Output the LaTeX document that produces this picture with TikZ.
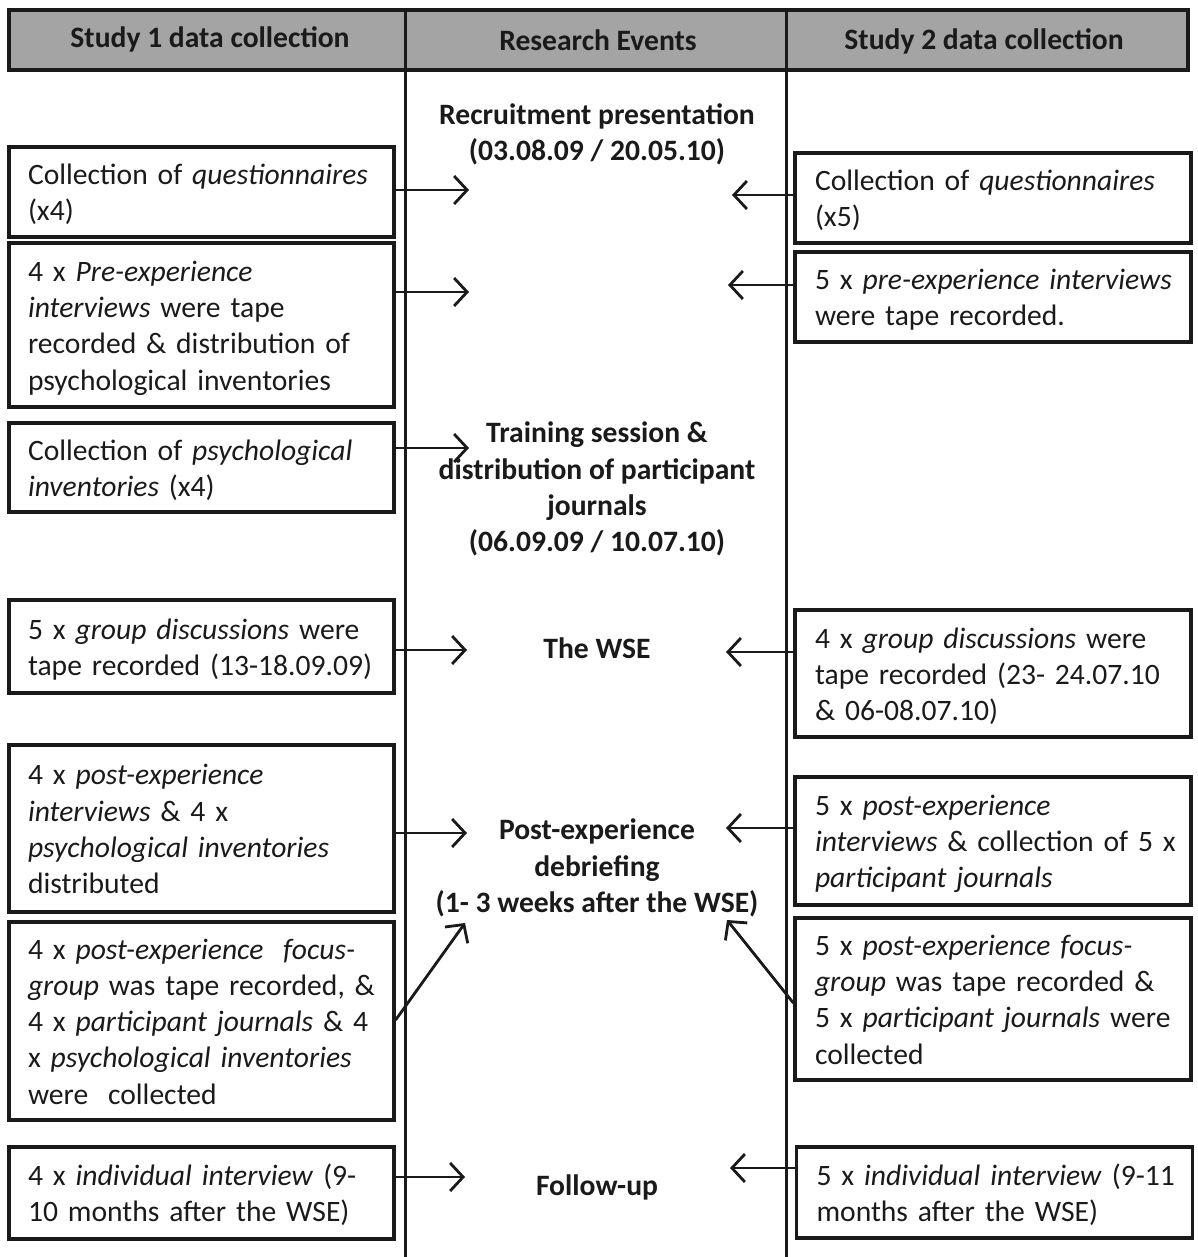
\documentclass[tikz,border=0pt]{standalone}
\usepackage{fontspec}
\setmainfont{Carlito}
\usetikzlibrary{arrows.meta}
\definecolor{ink}{HTML}{1A1A1A}
\definecolor{headfill}{HTML}{A4A4A4}
% lines of a box, kept exactly as broken, set a little low in the box
\newcommand{\boxlines}[1]{\raisebox{-3.5pt}[\height][\depth]{\begin{tabular}{@{}l@{}}#1\end{tabular}}}
\begin{document}
\begin{tikzpicture}[x=1pt,y=-1pt,
  every node/.style={font=\fontsize{29.6}{36.2}\selectfont, text=ink},
  lbox/.style={draw=ink, line width=3.2pt, rectangle, inner xsep=19pt, inner ysep=0pt,
    text width=347pt, align=left},
  rbox/.style={draw=ink, line width=3.2pt, rectangle, inner xsep=20pt, inner ysep=0pt,
    text width=356pt, align=left},
  event/.style={align=center, font=\fontsize{29.6}{36.2}\selectfont\bfseries},
  headtext/.style={font=\fontsize{29.6}{36.2}\selectfont\bfseries},
  arr/.style={draw=ink, line width=2.8pt, -{Straight Barb[length=13pt,width=28pt,line width=2.8pt]}}
]
\useasboundingbox (0,0) rectangle (1198,1257);

% header band
\fill[headfill] (9,10) rectangle (1188,70);
\draw[ink, line width=4.5pt] (9,10) rectangle (1188,70);
\node[headtext] (h1) at (210,39) {Study 1 data collection};
\node[headtext] (h2) at (598,40) {Research Events};
\node[headtext] (h3) at (984,41) {Study 2 data collection};

% column rules
\coordinate (c1top) at (405,10);
\coordinate (c1bot) at (405,1257);
\coordinate (c2top) at (786,10);
\coordinate (c2bot) at (786,1257);
\draw[ink, line width=3pt] (c1top) -- (c1bot);
\draw[ink, line width=3pt] (c2top) -- (c2bot);

% research events
\node[event] (e1) at (597,134) {Recruitment presentation\\(03.08.09 / 20.05.10)};
\node[event] (e2) at (597,489) {Training session \&\\distribution of participant\\journals\\(06.09.09 / 10.07.10)};
\node[event] (e3) at (597,648) {The WSE};
\node[event] (e4) at (597,868) {Post-experience\\debriefing\\(1- 3 weeks after the WSE)};
\node[event] (e5) at (597,1187) {Follow-up};

% study 1 boxes
\node[lbox, minimum height=90pt] (L1) at (201.5,192) {\boxlines{Collection of \textit{questionnaires}\\(x4)}};
\node[lbox, minimum height=164pt] (L2) at (201.5,325) {\boxlines{4 x \textit{Pre-experience}\\\textit{interviews} were tape\\recorded \& distribution of\\psychological inventories}};
\node[lbox, minimum height=89pt] (L3) at (201.5,467.5) {\boxlines{Collection of \textit{psychological}\\\textit{inventories} (x4)}};
\node[lbox, minimum height=93pt] (L4) at (201.5,646.5) {\boxlines{5 x \textit{group discussions} were\\tape recorded (13-18.09.09)}};
\node[lbox, minimum height=167pt] (L5) at (201.5,828.5) {\boxlines{4 x \textit{post-experience}\\\textit{interviews} \& 4 x\\\textit{psychological inventories}\\distributed}};
\node[lbox, minimum height=198pt] (L6) at (201.5,1021) {\boxlines{4 x \textit{post-experience\ \ focus-}\\\textit{group} was tape recorded, \&\\4 x \textit{participant journals} \& 4\\x \textit{psychological inventories}\\were\ \ collected}};
\node[lbox, minimum height=92pt] (L7) at (201.5,1193) {\boxlines{4 x \textit{individual interview} (9-\\10 months after the WSE)}};

% study 2 boxes
\node[rbox, minimum height=90pt] (R1) at (993,198) {\boxlines{Collection of \textit{questionnaires}\\(x5)}};
\node[rbox, minimum height=90pt] (R2) at (993,297) {\boxlines{5 x \textit{pre-experience interviews}\\were tape recorded.}};
\node[rbox, minimum height=127pt] (R3) at (993,673.5) {\boxlines{4 x \textit{group discussions} were\\tape recorded (23- 24.07.10\\\& 06-08.07.10)}};
\node[rbox, minimum height=128pt] (R4) at (993,841) {\boxlines{5 x \textit{post-experience}\\\textit{interviews} \& collection of 5 x\\\textit{participant journals}}};
\node[rbox, minimum height=162pt] (R5) at (993,999) {\boxlines{5 x \textit{post-experience focus-}\\\textit{group} was tape recorded \&\\5 x \textit{participant journals} were\\collected}};
\node[rbox, minimum height=91pt] (R6) at (994.5,1192.5) {\boxlines{5 x \textit{individual interview} (9-11\\months after the WSE)}};

% arrow tips beside the events
\coordinate (ta1) at (469,190);
\coordinate (ta2) at (469,292);
\coordinate (ta3) at (469,448);
\coordinate (ta4) at (467,650);
\coordinate (ta5) at (467,833);
\coordinate (ta6) at (465,923);
\coordinate (ta7) at (465,1177);
\coordinate (tb1) at (732,195);
\coordinate (tb2) at (728,285);
\coordinate (tb3) at (726,652);
\coordinate (tb4) at (726,828);
\coordinate (tb5) at (727,920);
\coordinate (tb6) at (730,1168);

% study 1 to events
\draw[arr] (L1.east |- ta1) -- (ta1);
\draw[arr] (L2.east |- ta2) -- (ta2);
\draw[arr] (L3.east |- ta3) -- (ta3);
\draw[arr] (L4.east |- ta4) -- (ta4);
\draw[arr] (L5.east |- ta5) -- (ta5);
\draw[arr] ([yshift=1pt]L6.east) -- (ta6);
\draw[arr] (L7.east |- ta7) -- (ta7);

% study 2 to events
\draw[arr] (R1.west |- tb1) -- (tb1);
\draw[arr] (R2.west |- tb2) -- (tb2);
\draw[arr] (R3.west |- tb3) -- (tb3);
\draw[arr] (R4.west |- tb4) -- (tb4);
\draw[arr] ([yshift=-4pt]R5.west) -- (tb5);
\draw[arr] (R6.west |- tb6) -- (tb6);
\end{tikzpicture}
\end{document}
